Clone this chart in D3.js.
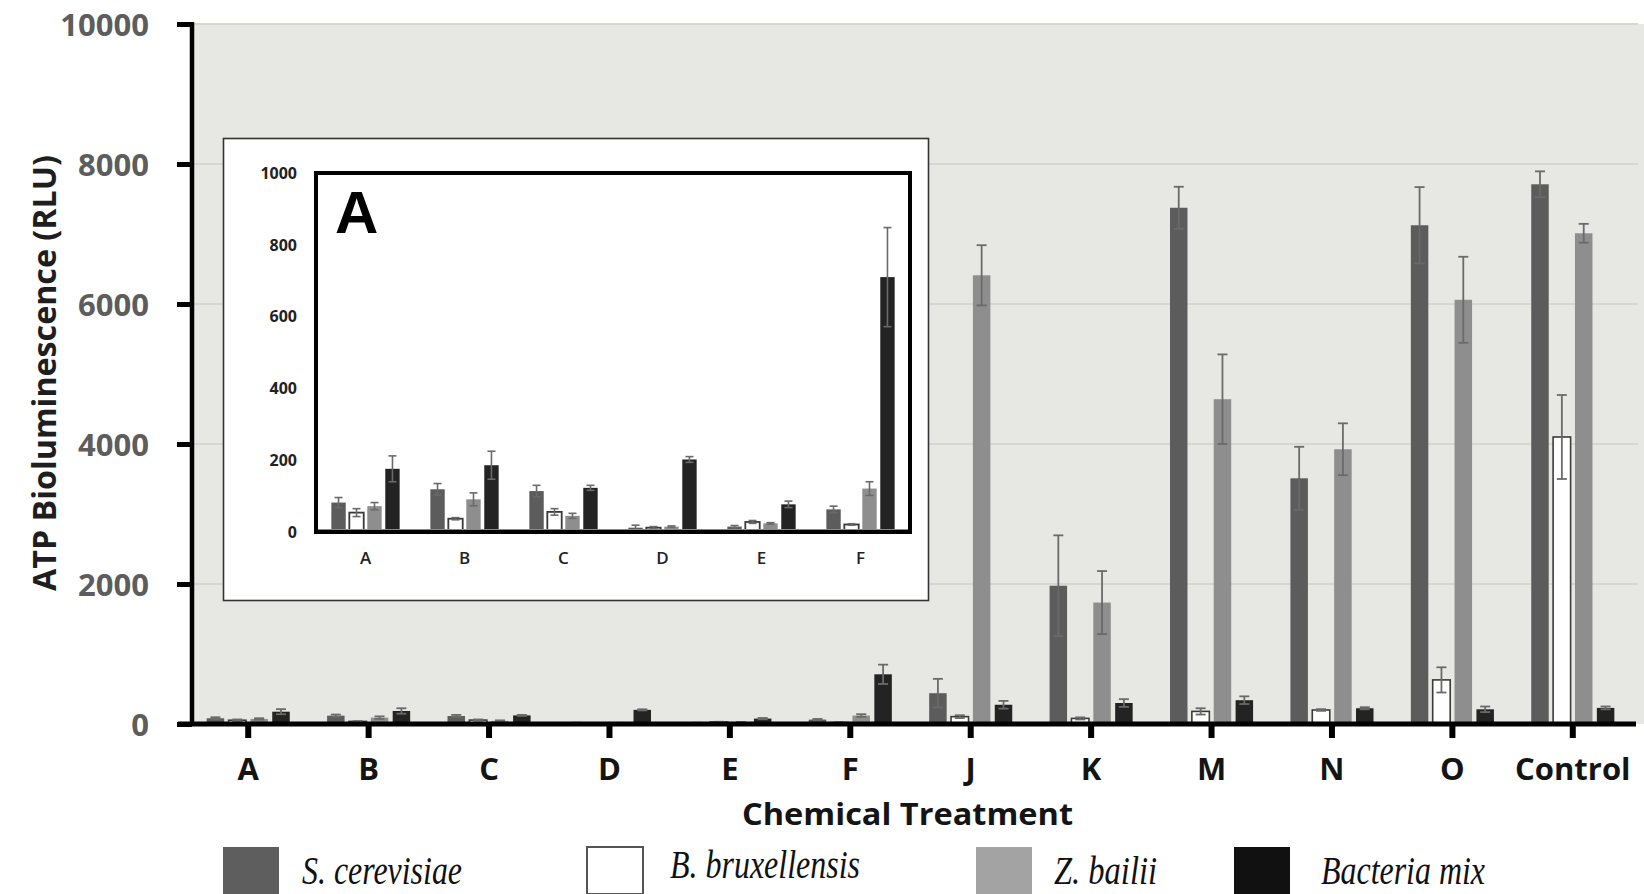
<!DOCTYPE html>
<html>
<head>
<meta charset="utf-8">
<script src="https://cdn.jsdelivr.net/npm/d3@7"></script>
<style>
  body { margin: 0; background: #ffffff; }
  svg { display: block; }
</style>
</head>
<body>
<svg id="chart" width="1644" height="894"></svg>
<script>
// ---- data ----
const categories = ["A", "B", "C", "D", "E", "F", "J", "K", "M", "N", "O", "Control"];
const insetCategories = ["A", "B", "C", "D", "E", "F"];
const seriesNames = ["S. cerevisiae", "B. bruxellensis", "Z. bailii", "Bacteria mix"];

const sCerevisiae      = [82, 119, 114, 12, 15, 63, 440, 1975, 7375, 3510, 7125, 7710];
const sCerevisiaeErr   = [14, 16, 16, 7, 3, 9, 205, 720, 300, 450, 545, 185];
const bBruxellensis    = [54, 37, 56, 12, 28, 21, 105, 80, 180, 200, 630, 4100];
const bBruxellensisErr = [11, 3, 9, 3, 4, 2, 20, 15, 45, 12, 180, 600];
const zBailii          = [72, 91, 45, 15, 24, 121, 6410, 1735, 4640, 3925, 6060, 7010];
const zBailiiErr       = [10, 18, 7, 2, 2, 19, 430, 450, 640, 370, 615, 135];
const bacteriaMix      = [176, 186, 123, 202, 77, 710, 275, 300, 340, 225, 210, 230];
const bacteriaMixErr   = [36, 39, 7, 8, 9, 138, 55, 55, 55, 15, 40, 20];

const mainTicks  = [0, 2000, 4000, 6000, 8000, 10000];
const insetTicks = [0, 200, 400, 600, 800, 1000];

// ---- styling ----
const barFill    = ["#5c5c5c", "#ffffff", "#8e8e8e", "#232323"];
const legendFill = ["#5e5e5e", "#ffffff", "#a3a3a3", "#111111"];
const sansBold = "'Open Sans', 'DejaVu Sans', sans-serif";

const means = [sCerevisiae, bBruxellensis, zBailii, bacteriaMix];
const errs  = [sCerevisiaeErr, bBruxellensisErr, zBailiiErr, bacteriaMixErr];

function buildRows(cats) {
  return cats.map(c => {
    const i = categories.indexOf(c);
    return {
      cat: c,
      vals: seriesNames.map((s, j) => ({ key: s, idx: j, v: means[j][i], e: errs[j][i] }))
    };
  });
}

const svg = d3.select("#chart");

// Draw grouped bars with symmetric error bars
function drawBars(g, rows, x0, x1, y, o) {
  const grp = g.selectAll("g.grp").data(rows).join("g")
    .attr("class", "grp")
    .attr("transform", d => `translate(${x0(d.cat)},0)`);

  grp.selectAll("rect").data(d => d.vals).join("rect")
    .attr("x", d => x1(d.key))
    .attr("width", x1.bandwidth())
    .attr("y", d => y(d.v))
    .attr("height", d => y(0) - y(d.v))
    .attr("fill", d => barFill[d.idx])
    .attr("stroke", d => d.idx === 1 ? "#3a3a3a" : "none")
    .attr("stroke-width", o.outline);

  const eb = grp.selectAll("g.err").data(d => d.vals).join("g")
    .attr("class", "err")
    .attr("stroke", "#6a6a6a")
    .attr("stroke-width", o.errWidth);
  const cx = d => x1(d.key) + x1.bandwidth() / 2;
  eb.append("line")
    .attr("x1", cx).attr("x2", cx)
    .attr("y1", d => y(Math.max(0, d.v - d.e)))
    .attr("y2", d => y(d.v + d.e));
  eb.append("line")
    .attr("x1", d => cx(d) - o.cap).attr("x2", d => cx(d) + o.cap)
    .attr("y1", d => y(d.v + d.e)).attr("y2", d => y(d.v + d.e));
  eb.append("line")
    .attr("x1", d => cx(d) - o.cap).attr("x2", d => cx(d) + o.cap)
    .attr("y1", d => y(Math.max(0, d.v - d.e))).attr("y2", d => y(Math.max(0, d.v - d.e)));
}

// ---- main chart ----
const axisX = 192, plotTop = 24, plotBase = 724;
const y = d3.scaleLinear().domain([0, 10000]).range([plotBase, plotTop]);
const x0 = d3.scaleBand().domain(categories).range([188, 1633]).paddingInner(0.31).paddingOuter(0.155);
const x1 = d3.scaleBand().domain(seriesNames).range([0, x0.bandwidth()]).paddingInner(0.2);

// plot background
svg.append("rect")
  .attr("x", axisX).attr("y", plotTop)
  .attr("width", 1644 - axisX).attr("height", plotBase - plotTop)
  .attr("fill", "#e7e8e3");

// gridlines
svg.append("g").selectAll("line").data(mainTicks.filter(t => t > 0)).join("line")
  .attr("x1", axisX).attr("x2", 1638)
  .attr("y1", d => y(d)).attr("y2", d => y(d))
  .attr("stroke", "#d5d7d1").attr("stroke-width", 2);

// bars
drawBars(svg.append("g"), buildRows(categories), x0, x1, y, { outline: 1.6, errWidth: 1.8, cap: 5 });

// y axis
const yAxis = svg.append("g")
  .attr("transform", `translate(${axisX},0)`)
  .call(d3.axisLeft(y).tickValues(mainTicks).tickSize(15).tickSizeOuter(0).tickPadding(28).tickFormat(d3.format("d")));
yAxis.select(".domain").attr("stroke", "#000").attr("stroke-width", 4.5)
  .attr("d", `M0,${plotTop - 2}V${plotBase}`);
yAxis.selectAll(".tick line").attr("stroke", "#000").attr("stroke-width", 5);
yAxis.selectAll(".tick text")
  .attr("font-family", sansBold).attr("font-weight", 700)
  .attr("font-size", 31).attr("fill", "#5d5d5d").attr("dy", "0.36em");

// x axis
const xAxis = svg.append("g")
  .attr("transform", `translate(0,${plotBase})`)
  .call(d3.axisBottom(x0).tickSize(14).tickSizeOuter(0).tickPadding(20));
xAxis.select(".domain").attr("stroke", "#000").attr("stroke-width", 5)
  .attr("d", "M178,0H1636");
xAxis.selectAll(".tick line").attr("stroke", "#000").attr("stroke-width", 6);
xAxis.selectAll(".tick text")
  .attr("font-family", sansBold).attr("font-weight", 700)
  .attr("font-size", 31).attr("fill", "#141414");

// axis titles
svg.append("text")
  .attr("transform", "translate(56,373) rotate(-90)")
  .attr("text-anchor", "middle")
  .attr("font-family", sansBold).attr("font-weight", 700).attr("font-size", 33)
  .attr("fill", "#1e1e1e")
  .attr("textLength", 436).attr("lengthAdjust", "spacingAndGlyphs")
  .text("ATP Bioluminescence (RLU)");

svg.append("text")
  .attr("x", 907.5).attr("y", 825)
  .attr("text-anchor", "middle")
  .attr("font-family", sansBold).attr("font-weight", 700).attr("font-size", 31)
  .attr("fill", "#141414")
  .attr("textLength", 331).attr("lengthAdjust", "spacingAndGlyphs")
  .text("Chemical Treatment");

// ---- inset (treatments A–F) ----
const inset = svg.append("g");
inset.append("rect")
  .attr("x", 223.5).attr("y", 138.5).attr("width", 705).attr("height", 462)
  .attr("fill", "#ffffff").attr("stroke", "#333").attr("stroke-width", 1.6);

const iy = d3.scaleLinear().domain([0, 1000]).range([532, 173]);
const ix0 = d3.scaleBand().domain(insetCategories).range([316, 910]).paddingInner(0.31).paddingOuter(0.155);
const ix1 = d3.scaleBand().domain(seriesNames).range([0, ix0.bandwidth()]).paddingInner(0.2);

drawBars(inset.append("g"), buildRows(insetCategories), ix0, ix1, iy, { outline: 1.8, errWidth: 1.6, cap: 4 });

// inset frame
inset.append("line")
  .attr("x1", 316).attr("x2", 910).attr("y1", 530).attr("y2", 530)
  .attr("stroke", "#8a8a8a").attr("stroke-width", 2);
inset.append("rect")
  .attr("x", 316).attr("y", 173).attr("width", 594).attr("height", 359)
  .attr("fill", "none").attr("stroke", "#000").attr("stroke-width", 4);

// inset y labels
inset.append("g").selectAll("text").data(insetTicks).join("text")
  .attr("x", 297).attr("y", d => iy(d)).attr("dy", "0.36em")
  .attr("text-anchor", "end")
  .attr("font-family", sansBold).attr("font-weight", 700).attr("font-size", 16)
  .attr("fill", "#222")
  .text(d => d);

// inset x labels
inset.append("g").selectAll("text").data(insetCategories).join("text")
  .attr("x", d => ix0(d) + ix0.bandwidth() / 2).attr("y", 564)
  .attr("text-anchor", "middle")
  .attr("font-family", sansBold).attr("font-weight", 600).attr("font-size", 17)
  .attr("fill", "#222")
  .text(d => d);

// panel letter
inset.append("text")
  .attr("x", 335).attr("y", 233)
  .attr("font-family", "'Liberation Sans', Arial, sans-serif").attr("font-weight", 700)
  .attr("font-size", 60).attr("fill", "#000")
  .text("A");

// ---- legend ----
const legendSquareX = [223, 587, 976, 1234];
const legendTextX   = [302, 670, 1054, 1321];
const legendTextW   = [160, 190, 103, 164];
const legendBaseY   = [884, 878, 884, 884];

const leg = svg.append("g").selectAll("g").data(seriesNames).join("g");
leg.append("rect")
  .attr("x", (d, i) => legendSquareX[i]).attr("y", 847)
  .attr("width", 56).attr("height", 47)
  .attr("fill", (d, i) => legendFill[i])
  .attr("stroke", (d, i) => i === 1 ? "#555" : "none")
  .attr("stroke-width", 2);
leg.append("text")
  .attr("x", (d, i) => legendTextX[i]).attr("y", (d, i) => legendBaseY[i])
  .attr("font-family", "'Liberation Serif', 'Times New Roman', serif")
  .attr("font-style", "italic").attr("font-size", 39).attr("fill", "#111")
  .attr("textLength", (d, i) => legendTextW[i]).attr("lengthAdjust", "spacingAndGlyphs")
  .text(d => d);
</script>
</body>
</html>
